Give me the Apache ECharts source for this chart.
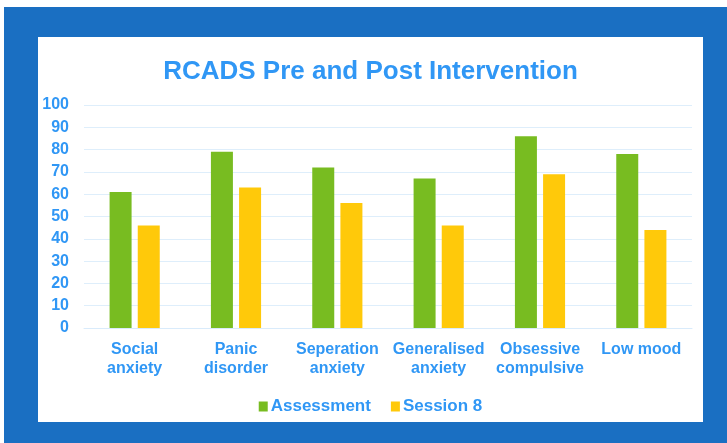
<!DOCTYPE html>
<html>
<head>
<meta charset="utf-8">
<script src="https://cdn.jsdelivr.net/npm/echarts@6/dist/echarts.min.js"></script>
<style>
  body { margin: 0; background: #fff; }
  #frame { position: absolute; left: 4px; top: 7px; width: 723px; height: 436px; background: #1a6fc2; }
  #bar { position: absolute; left: 38px; top: 37px; width: 665px; height: 385px; background: #fff; }
</style>
</head>
<body>
<div id="frame"></div>
<div id="bar"></div>
<script>
var categories = ['Social\nanxiety', 'Panic\ndisorder', 'Seperation\nanxiety', 'Generalised\nanxiety', 'Obsessive\ncompulsive', 'Low mood'];
var assessment = [61, 79, 72, 67, 86, 78];
var session8 = [46, 63, 56, 46, 69, 44];

var dom = document.getElementById("bar");
var myChart = echarts.init(dom);
var blue = '#3097f5';
var font = 'Liberation Sans, Arial, sans-serif';

option = {
    title: {
        text: 'RCADS Pre and Post Intervention',
        left: 'center',
        top: 17,
        textStyle: { color: blue, fontSize: 26, fontWeight: 'bold', fontFamily: font }
    },
    color: ['#78bc21', '#ffc90a'],
    legend: {
        bottom: 2,
        left: 'center',
        itemWidth: 9,
        itemHeight: 10,
        itemGap: 20,
        icon: 'rect',
        textStyle: { color: blue, fontSize: 17, fontWeight: 'bold', fontFamily: font, padding: [0, 0, 0, -2] },
        data: ['Assessment', 'Session 8']
    },
    grid: {
        left: 46, // 左边距
        right: 11,
        top: 68,
        bottom: 94
    },
    xAxis: {
        type: 'category',
        data: categories,
        axisTick: { show: false },
        axisLine: { lineStyle: { color: '#d9ebfb' } },
        axisLabel: {
            color: blue, fontSize: 16, fontWeight: 'bold', fontFamily: font,
            lineHeight: 19, margin: 12, interval: 0
        }
    },
    yAxis: {
        type: 'value',
        min: 0,
        max: 100,
        interval: 10,
        axisLine: { show: false },
        axisTick: { show: false },
        splitLine: { lineStyle: { color: '#deeefb' } },
        axisLabel: { color: blue, fontSize: 16, fontWeight: 'bold', fontFamily: font, margin: 15 }
    },
    series: [
        { name: 'Assessment', type: 'bar', barWidth: 22, barGap: '28%', data: assessment },
        { name: 'Session 8', type: 'bar', barWidth: 22, data: session8 }
    ]
};
myChart.setOption(option, true);
</script>
</body>
</html>
